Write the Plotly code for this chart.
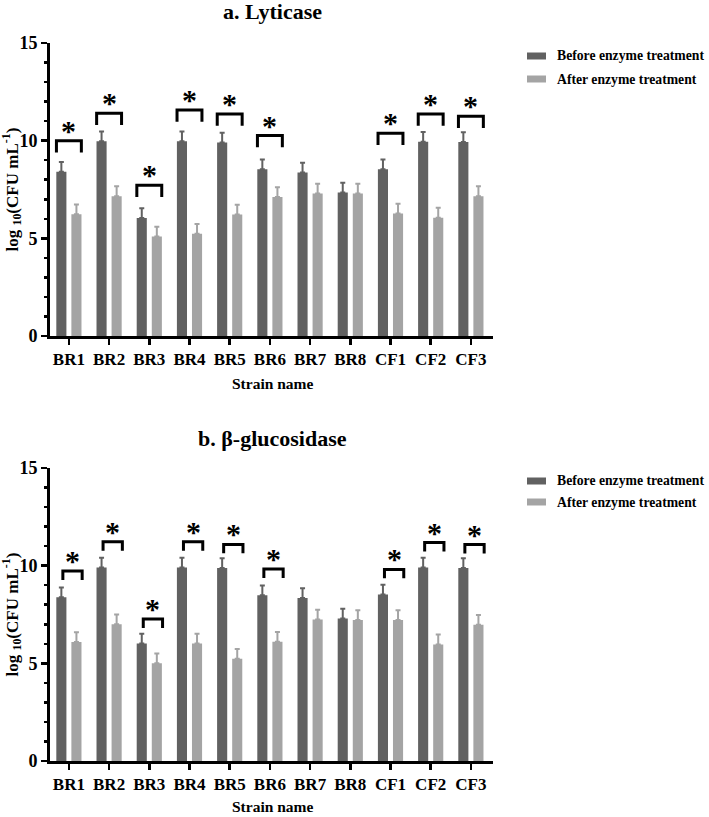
import plotly.graph_objects as go

W, H = 709, 817

strains = ["BR1", "BR2", "BR3", "BR4", "BR5", "BR6", "BR7", "BR8", "CF1", "CF2", "CF3"]

# Panel a: Lyticase
before_a = [8.41, 9.97, 6.04, 9.97, 9.91, 8.54, 8.37, 7.35, 8.54, 9.95, 9.93]
after_a = [6.23, 7.16, 5.09, 5.24, 6.22, 7.12, 7.29, 7.29, 6.27, 6.06, 7.16]
err_before_a = [0.5] * 11
err_after_a = [0.5] * 11
sig_a = [10.0, 11.4, 7.72, 11.57, 11.37, 10.26, None, None, 10.38, 11.37, 11.25]

# Panel b: beta-glucosidase
before_b = [8.38, 9.91, 6.01, 9.91, 9.88, 8.48, 8.34, 7.29, 8.52, 9.91, 9.88]
after_b = [6.09, 7.00, 5.00, 6.01, 5.24, 6.11, 7.24, 7.22, 7.22, 5.97, 6.98]
err_before_b = [0.5] * 11
err_after_b = [0.5] * 11
sig_b = [9.73, 11.23, 7.27, 11.23, 11.09, 9.83, None, None, 9.81, 11.18, 11.08]

y_ticks = [0, 5, 10, 15]
series_names = ["Before enzyme treatment", "After enzyme treatment"]
colors = ["#616161", "#a4a4a4"]

FONT = "Liberation Serif"
pos = list(range(len(strains)))


def px_x(p):
    return p / W


def px_y(p):
    return 1 - p / H


fig = go.Figure()

panels = [
    dict(before=before_a, after=after_a, eb=err_before_a, ea=err_after_a, sig=sig_a,
         xa="x", ya="y", top=43, bot=336, title="a. Lyticase", title_y=11,
         leg_y=[56, 79], sx=(-0.31, 0.31), leg=0.6, xlab_y=383),
    dict(before=before_b, after=after_b, eb=err_before_b, ea=err_after_b, sig=sig_b,
         xa="x2", ya="y2", top=468, bot=761, title="b. β-glucosidase", title_y=439,
         leg_y=[481, 502], sx=(-0.15, 0.33), leg=0.46, xlab_y=806),
]

shapes = []
annotations = []

for k, P in enumerate(panels):
    for vals, errs, name, col in [(P["before"], P["eb"], series_names[0], colors[0]),
                                  (P["after"], P["ea"], series_names[1], colors[1])]:
        fig.add_trace(go.Bar(
            x=pos, y=vals, name=name, marker=dict(color=col, line=dict(width=0)),
            error_y=dict(type="data", array=errs, arrayminus=[0] * len(errs), symmetric=False,
                         color=col, thickness=2, width=2.5),
            xaxis=P["xa"], yaxis=P["ya"], showlegend=False,
        ))
    # significance brackets
    for i, s in enumerate(P["sig"]):
        if s is None:
            continue
        x0 = i + P["sx"][0]
        x1 = i + P["sx"][1]
        shapes.append(dict(
            type="path", xref=P["xa"], yref=P["ya"],
            path=f"M {x0},{s - P['leg']} L {x0},{s} L {x1},{s} L {x1},{s - P['leg']}",
            line=dict(color="black", width=3),
        ))
        annotations.append(dict(
            x=(x0 + x1) / 2, y=s, xref=P["xa"], yref=P["ya"], text="<b>*</b>",
            showarrow=False, yanchor="bottom", yshift=-8,
            font=dict(family=FONT, size=30, color="black"),
        ))
    # titles
    annotations.append(dict(
        x=px_x(272), y=px_y(P["title_y"]), xref="paper", yref="paper",
        text=f"<b>{P['title']}</b>", showarrow=False, xanchor="center", yanchor="middle",
        font=dict(family=FONT, size=22, color="black"),
    ))
    annotations.append(dict(
        x=px_x(272), y=px_y(P["xlab_y"]), xref="paper", yref="paper",
        text="<b>Strain name</b>", showarrow=False, xanchor="center", yanchor="middle",
        font=dict(family=FONT, size=15.5, color="black"),
    ))
    annotations.append(dict(
        x=px_x(12), y=px_y((P["top"] + P["bot"]) / 2), xref="paper", yref="paper",
        text="<b>log <sub>10</sub>(CFU mL<sup>-1</sup>)</b>", showarrow=False,
        textangle=-90, xanchor="center", yanchor="middle",
        font=dict(family=FONT, size=17, color="black"),
    ))
    # legend
    for j, nm in enumerate(series_names):
        yc = P["leg_y"][j]
        shapes.append(dict(
            type="rect", xref="paper", yref="paper",
            x0=px_x(527), x1=px_x(546), y0=px_y(yc - 3.5), y1=px_y(yc + 3.5),
            fillcolor=colors[j], line=dict(width=0),
        ))
        annotations.append(dict(
            x=px_x(555), y=px_y(yc), xref="paper", yref="paper",
            text=f"<b>{nm}</b>", showarrow=False, xanchor="left", yanchor="middle",
            font=dict(family=FONT, size=13.7, color="black"),
        ))

    dom_y = [px_y(P["bot"]), px_y(P["top"])]
    xax = dict(
        domain=[px_x(50), px_x(493)], range=[-0.47, 10.55],
        tickmode="array", tickvals=pos, ticktext=strains,
        showline=True, linecolor="black", linewidth=3,
        ticks="outside", ticklen=6, tickwidth=2.5, tickcolor="black",
        tickfont=dict(family=FONT, size=17, color="black", weight="bold"),
        showgrid=False, zeroline=False, anchor=P["ya"], fixedrange=True, automargin=False,
    )
    yax = dict(
        domain=dom_y, range=[0, 15], tickmode="array", tickvals=y_ticks,
        showline=True, linecolor="black", linewidth=3,
        ticks="outside", ticklen=6, tickwidth=2.5, tickcolor="black",
        tickfont=dict(family=FONT, size=18, color="black", weight="bold"),
        minor=dict(dtick=1, ticks="outside", ticklen=3, tickwidth=2.5, tickcolor="black", showgrid=False),
        showgrid=False, zeroline=False, anchor=P["xa"], fixedrange=True, automargin=False,
    )
    if k == 0:
        fig.update_layout(xaxis=xax, yaxis=yax)
    else:
        fig.update_layout(xaxis2=xax, yaxis2=yax)

fig.update_layout(
    width=W, height=H, margin=dict(l=0, r=0, t=0, b=0, pad=0, autoexpand=False),
    paper_bgcolor="white", plot_bgcolor="white",
    barmode="group", bargap=0.25, bargroupgap=0.33,
    font=dict(family=FONT, color="black"),
    shapes=shapes, annotations=annotations, showlegend=False,
)

fig.write_html(
    "out.html",
    config={"displayModeBar": False, "staticPlot": True},
    post_script="document.body.style.margin='0';document.body.style.overflow='hidden';",
)
